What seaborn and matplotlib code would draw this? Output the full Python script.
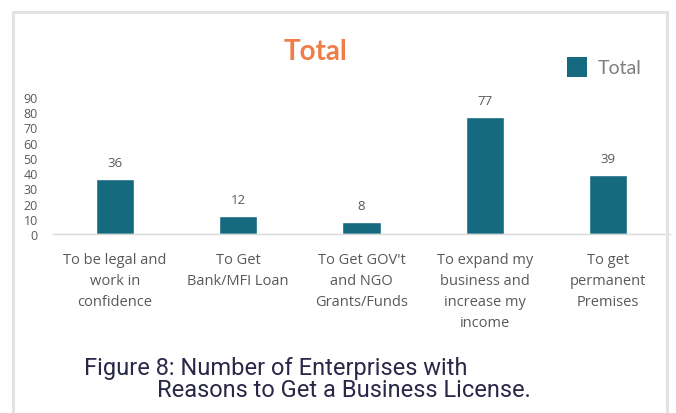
import matplotlib
matplotlib.use("Agg")
import matplotlib.pyplot as plt
from matplotlib.patches import Rectangle
import seaborn as sns
import pandas as pd

categories = [
    "To be legal and\nwork in\nconfidence",
    "To Get\nBank/MFI Loan",
    "To Get GOV't\nand NGO\nGrants/Funds",
    "To expand my\nbusiness and\nincrease my\nincome",
    "To get\npermanent\nPremises",
]
values = [36, 12, 8, 77, 39]
series_name = "Total"
y_ticks = [0, 10, 20, 30, 40, 50, 60, 70, 80, 90]

bar_color = "#156A80"
df = pd.DataFrame({"reason": categories, "count": values})

sns.set_theme(style="white")
plt.rcParams["font.family"] = ["Open Sans", "DejaVu Sans"]

W, H = 676, 414
fig = plt.figure(figsize=(W / 100, H / 100), dpi=100)
fig.patch.set_facecolor("white")

# light outer frame
fig.add_artist(Rectangle((13 / W, -0.1), 654 / W, 1.1 - 13 / H,
                         transform=fig.transFigure, fill=False,
                         edgecolor="#E3E3E3", linewidth=2.2))

ax = fig.add_axes([53 / W, 1 - 235 / H, 617 / W, 137 / H])
sns.barplot(data=df, x="reason", y="count", color=bar_color, width=0.31,
            saturation=1, ax=ax, label=series_name, legend=False)

ax.set_ylim(0, 90)
ax.set_yticks(y_ticks)
ax.set_xlim(-0.5, len(categories) - 0.5)
ax.set_xlabel("")
ax.set_ylabel("")
for s in ["top", "right", "left"]:
    ax.spines[s].set_visible(False)
ax.spines["bottom"].set_color("#D9D9D9")
ax.spines["bottom"].set_linewidth(1.0)
ax.tick_params(axis="y", length=0, pad=11, labelsize=9, labelcolor="#595959")
ax.tick_params(axis="x", length=0, pad=13, labelsize=10.5, labelcolor="#595959")
for lbl in ax.get_xticklabels():
    lbl.set_linespacing(1.55)

for c in ax.containers:
    ax.bar_label(c, fmt="%d", padding=7, fontsize=9.5, color="#595959")

# title
fig.text(315 / W, 1 - 52 / H, "Total", ha="center", va="center",
         fontsize=20, fontweight="bold", color="#EE7D4A", family="Lato")

# legend
fig.add_artist(Rectangle((567 / W, 1 - 78 / H), 20 / W, 20 / H,
                         transform=fig.transFigure, facecolor=bar_color,
                         edgecolor="none"))
fig.text(598 / W, 1 - 68 / H, series_name, ha="left", va="center",
         fontsize=14, color="#7F7F7F", family="Lato")

# caption
fig.text(84 / W, 1 - 369 / H, "Figure 8: Number of Enterprises with",
         ha="left", va="center", fontsize=17, color="#2A2848", family="Roboto")
fig.text(157 / W, 1 - 391 / H, "Reasons to Get a Business License.",
         ha="left", va="center", fontsize=17, color="#2A2848", family="Roboto")

fig.savefig("out.png", dpi=100, facecolor="white")
